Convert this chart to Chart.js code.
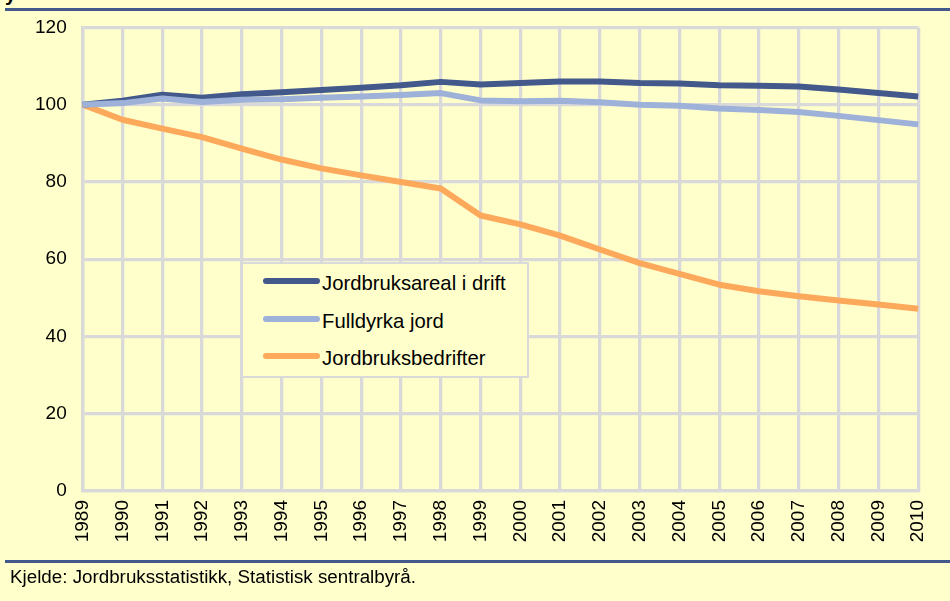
<!DOCTYPE html>
<html>
<head>
<meta charset="utf-8">
<script src="https://cdn.jsdelivr.net/npm/chart.js@4.4.1/dist/chart.umd.min.js"></script>
<style>
  html, body { margin:0; padding:0; background:#FFFFCC; }
  body { width:950px; height:601px; position:relative; overflow:hidden; font-family:"Liberation Sans", Arial, sans-serif; }
  #wrap { position:absolute; left:0; top:0; width:950px; height:601px; }
  .rule { position:absolute; left:5px; right:0; height:3px; background:#43598B; }
  #footer { position:absolute; left:10px; top:566px; font-size:18.8px; color:#000; white-space:nowrap; }
  #frag { position:absolute; left:5px; top:-17px; font-size:20px; font-weight:bold; color:#000; }
  #legend { position:absolute; left:241px; top:262px; width:288px; height:116px; box-sizing:border-box;
            border:2.5px solid #D9D9D9; background:#FFFFCC; }
  .item { position:absolute; left:20px; height:20px; font-size:20.3px; color:#000; white-space:nowrap; }
  .swatch { position:absolute; left:0; top:0; width:57px; height:6px; border-radius:3px; }
  .lbl { position:absolute; left:59px; top:-6px; }
</style>
</head>
<body>
<div id="frag">y</div>
<div class="rule" style="top:8px"></div>
<div id="wrap"><canvas id="c" width="950" height="601"></canvas></div>
<div id="legend"></div>
<div class="rule" style="top:560px"></div>
<div id="footer">Kjelde: Jordbruksstatistikk, Statistisk sentralbyrå.</div>
<script>
const years = ["1989","1990","1991","1992","1993","1994","1995","1996","1997","1998","1999","2000","2001","2002","2003","2004","2005","2006","2007","2008","2009","2010"];
const jordbruksareal = [100, 101.0, 102.6, 101.8, 102.7, 103.2, 103.8, 104.4, 105.0, 105.9, 105.2, 105.6, 106.0, 106.0, 105.6, 105.5, 105.0, 104.9, 104.7, 103.9, 103.0, 102.1];
const fulldyrka = [100, 100.4, 101.6, 100.7, 101.3, 101.4, 101.8, 102.1, 102.5, 103.0, 101.1, 100.9, 101.0, 100.6, 100.0, 99.7, 99.0, 98.6, 98.1, 97.1, 96.0, 94.9];
const bedrifter = [100, 96.1, 93.8, 91.6, 88.6, 85.8, 83.5, 81.7, 80.0, 78.3, 71.3, 69.0, 66.1, 62.5, 59.0, 56.2, 53.4, 51.7, 50.4, 49.3, 48.3, 47.2];
const seriesNames = ["Jordbruksareal i drift", "Fulldyrka jord", "Jordbruksbedrifter"];
const yTicks = [0, 20, 40, 60, 80, 100, 120];

const colors = ["#43598B", "#9EB1D9", "#FDA95C"];
const FONT = "'Liberation Sans', Arial, sans-serif";

const chart = new Chart(document.getElementById('c'), {
  type: 'line',
  data: {
    labels: years,
    datasets: [
      { label: seriesNames[0], data: jordbruksareal, borderColor: colors[0], order: 1 },
      { label: seriesNames[1], data: fulldyrka, borderColor: colors[1], order: 0 },
      { label: seriesNames[2], data: bedrifter, borderColor: colors[2], order: 2 }
    ].map(d => Object.assign(d, { borderWidth: 6, pointRadius: 0, tension: 0, fill: false, borderJoinStyle: 'round' }))
  },
  options: {
    responsive: false,
    animation: false,
    events: [],
    layout: { padding: { left: 0, top: 27, right: 29, bottom: 0 } },
    plugins: { legend: { display: false }, tooltip: { enabled: false }, title: { display: false } },
    scales: {
      x: {
        offset: false,
        grid: { color: '#D9D9D9', lineWidth: 3.3, drawTicks: false, offset: false },
        border: { color: '#D9D9D9', width: 3.3 },
        ticks: { color: '#000', font: { family: FONT, size: 19 }, minRotation: 90, maxRotation: 90, padding: 9, autoSkip: false },
        afterFit: s => { s.height = 110; }
      },
      y: {
        min: 0, max: 120,
        afterBuildTicks: s => { s.ticks = yTicks.map(v => ({ value: v })); },
        grid: { color: '#D9D9D9', lineWidth: 3.3, drawTicks: false },
        border: { color: '#D9D9D9', width: 3.3 },
        ticks: { color: '#000', font: { family: FONT, size: 19 }, padding: 16 },
        afterFit: s => { s.width = 82.7; }
      }
    }
  }
});

// HTML legend built from the datasets
const legend = document.getElementById('legend');
const rowTops = [14, 51.5, 89];
chart.data.datasets.forEach((ds, i) => {
  const it = document.createElement('div');
  it.className = 'item';
  it.style.top = rowTops[i] + 'px';
  const sw = document.createElement('div');
  sw.className = 'swatch';
  sw.style.background = ds.borderColor;
  const lb = document.createElement('span');
  lb.className = 'lbl';
  lb.textContent = ds.label;
  it.appendChild(sw); it.appendChild(lb);
  legend.appendChild(it);
});
</script>
</body>
</html>
